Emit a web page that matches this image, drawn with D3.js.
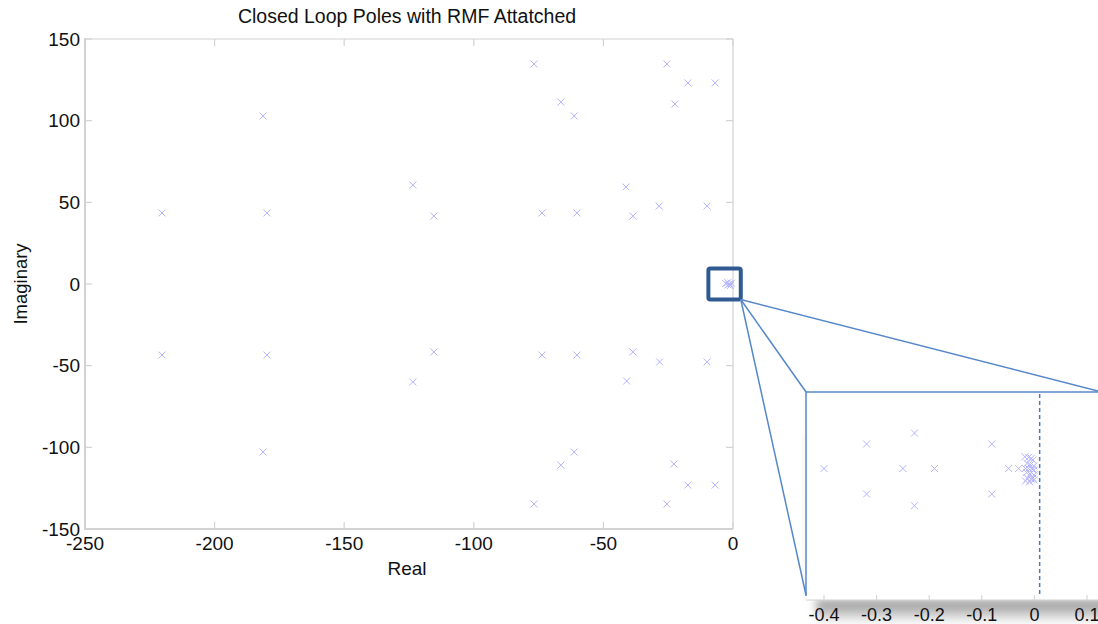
<!DOCTYPE html>
<html>
<head>
<meta charset="utf-8">
<script src="https://cdn.jsdelivr.net/npm/d3@7"></script>
<style>
  body { margin: 0; background: #fff; }
  text { font-family: "Liberation Sans", Arial, sans-serif; fill: #111; }
</style>
</head>
<body>
<div id="chart"></div>
<script>
// pole locations
const realParts = [-76.8, -25.5, -17.4, -6.9, -66.4, -22.4, -61.3, -181.3, -123.5, -41.3, -220.3, -179.8, -115.4, -73.7, -60.2, -38.6, -28.5, -10.0,
                   -76.8, -25.5, -17.4, -6.9, -66.4, -22.8, -61.3, -181.3, -123.5, -41.0, -220.3, -179.8, -115.4, -73.7, -60.2, -38.6, -28.3, -10.0,
                   -2.8, -2.0, -1.4, -1.0, -1.8, -0.6];
const imagParts = [134.7, 134.7, 123.1, 123.1, 111.4, 110.2, 102.9, 102.9, 60.6, 59.4, 43.5, 43.5, 41.6, 43.5, 43.5, 41.6, 47.7, 47.7,
                   -134.7, -134.7, -123.1, -123.1, -110.9, -110.2, -102.9, -102.9, -60.0, -59.4, -43.5, -43.5, -41.6, -43.5, -43.5, -41.6, -47.7, -47.7,
                   0.3, 0.9, 0, -0.9, -0.6, 0.5];

// poles in the zoomed inset
const zoomReal = [-0.400, -0.319, -0.319, -0.228, -0.228, -0.250, -0.190, -0.081, -0.081, -0.049, -0.030,
                  -0.018, -0.011, -0.006, -0.003, -0.014, -0.008, -0.001, -0.017, -0.011, -0.004, -0.001,
                  -0.015, -0.008, -0.001, -0.013, -0.006, -0.001, -0.017, -0.009, -0.003];
const zoomImag = [0, 0.096, -0.100, 0.139, -0.146, 0, 0, 0.096, -0.100, 0, 0,
                  0.046, 0.044, 0.040, 0.033, 0.020, 0.014, 0.010, 0, 0, -0.003, -0.006,
                  -0.016, -0.022, -0.025, -0.038, -0.042, -0.045, -0.049, -0.052, -0.038];

const xTicks = [-250, -200, -150, -100, -50, 0];
const yTicks = [-150, -100, -50, 0, 50, 100, 150];
const zoomTicks = [-0.4, -0.3, -0.2, -0.1, 0, 0.1];
const dashedAt = 0.01;

const svgWidth = 1098, svgHeight = 624;
const margin = {top: 39, left: 85, width: 648, height: 490};

const svg = d3.select('#chart')
    .append('svg')
    .attr('width', svgWidth)
    .attr('height', svgHeight);

const x = d3.scaleLinear().domain([-250, 0]).range([margin.left, margin.left + margin.width]);
const y = d3.scaleLinear().domain([-150, 150]).range([margin.top + margin.height, margin.top]);

// box lines
const axisGrey = '#d2d2d2';
svg.append('line').attr('x1', x(-250)).attr('x2', x(0)).attr('y1', y(150)).attr('y2', y(150))
    .attr('stroke', axisGrey).attr('stroke-width', 1.2);
svg.append('line').attr('x1', x(0)).attr('x2', x(0)).attr('y1', y(150)).attr('y2', y(-150))
    .attr('stroke', axisGrey).attr('stroke-width', 1.2);
svg.append('line').attr('x1', x(-250)).attr('x2', x(-250)).attr('y1', y(150) - 1).attr('y2', y(-150) + 1)
    .attr('stroke', axisGrey).attr('stroke-width', 2);
svg.append('line').attr('x1', x(-250) - 1).attr('x2', x(0)).attr('y1', y(-150)).attr('y2', y(-150))
    .attr('stroke', axisGrey).attr('stroke-width', 2);

// inner ticks
const tickLen = 7;
xTicks.forEach(t => {
    svg.append('line').attr('x1', x(t)).attr('x2', x(t)).attr('y1', y(-150)).attr('y2', y(-150) - tickLen)
        .attr('stroke', axisGrey).attr('stroke-width', 1.2);
    svg.append('line').attr('x1', x(t)).attr('x2', x(t)).attr('y1', y(150)).attr('y2', y(150) + tickLen)
        .attr('stroke', axisGrey).attr('stroke-width', 1.2);
    svg.append('text').attr('x', x(t)).attr('y', y(-150) + 21)
        .attr('text-anchor', 'middle').attr('font-size', 19).text(t);
});
yTicks.forEach(t => {
    svg.append('line').attr('x1', x(-250)).attr('x2', x(-250) + tickLen).attr('y1', y(t)).attr('y2', y(t))
        .attr('stroke', axisGrey).attr('stroke-width', 1.2);
    svg.append('line').attr('x1', x(0)).attr('x2', x(0) - tickLen).attr('y1', y(t)).attr('y2', y(t))
        .attr('stroke', axisGrey).attr('stroke-width', 1.2);
    svg.append('text').attr('x', x(-250) - 5).attr('y', y(t) + 6.5)
        .attr('text-anchor', 'end').attr('font-size', 19).text(t);
});

// titles
svg.append('text').attr('x', 407).attr('y', 23).attr('text-anchor', 'middle')
    .attr('font-size', 19.5).text('Closed Loop Poles with RMF Attatched');
svg.append('text').attr('x', 407).attr('y', 575).attr('text-anchor', 'middle')
    .attr('font-size', 19).text('Real');
svg.append('text').attr('transform', `translate(27,${y(0)}) rotate(-90)`).attr('text-anchor', 'middle')
    .attr('font-size', 18.5).text('Imaginary');

// x markers
const markColor = '#b4b4ff';
function cross(g, cx, cy, r) {
    g.append('path')
        .attr('d', `M${cx - r},${cy - r}L${cx + r},${cy + r}M${cx - r},${cy + r}L${cx + r},${cy - r}`)
        .attr('stroke', markColor).attr('stroke-width', 1).attr('fill', 'none');
}
const poles = svg.append('g');
realParts.forEach((re, i) => cross(poles, x(re), y(imagParts[i]), 3.5));

// zoom box on the origin
const boxX0 = x(-9.5), boxX1 = x(3), boxY0 = y(9.5), boxY1 = y(-9.5);
svg.append('rect').attr('x', boxX0).attr('y', boxY0)
    .attr('width', boxX1 - boxX0).attr('height', boxY1 - boxY0)
    .attr('rx', 2).attr('fill', 'none').attr('stroke', '#2e5a91').attr('stroke-width', 4);

// inset
const inset = {left: 806, top: 392, right: 1100, bottom: 600};
const zx = d3.scaleLinear().domain([-0.4, 0.1]).range([824, 1087]);
const zy = d3.scaleLinear().domain([-0.5, 0.3]).range([596, 392]);

const defs = svg.append('defs');
const grad = defs.append('linearGradient').attr('id', 'shadow').attr('x1', 0).attr('x2', 0).attr('y1', 0).attr('y2', 1);
grad.append('stop').attr('offset', '0%').attr('stop-color', '#8a8a8a');
grad.append('stop').attr('offset', '100%').attr('stop-color', '#ffffff');
const blur = defs.append('filter').attr('id', 'blur').attr('x', '-20%').attr('y', '-20%').attr('width', '140%').attr('height', '160%');
blur.append('feGaussianBlur').attr('stdDeviation', 4);

svg.append('rect').attr('x', inset.left + 10).attr('y', inset.bottom).attr('width', inset.right - inset.left)
    .attr('height', 24).attr('fill', 'url(#shadow)').attr('filter', 'url(#blur)');
svg.append('rect').attr('x', inset.left - 3).attr('y', inset.top + 40).attr('width', 4)
    .attr('height', inset.bottom - inset.top - 40).attr('fill', '#ececec').attr('filter', 'url(#blur)');
svg.append('rect').attr('x', inset.left).attr('y', inset.top)
    .attr('width', inset.right - inset.left).attr('height', inset.bottom - inset.top).attr('fill', '#fff');

// inset axis
svg.append('line').attr('x1', inset.left).attr('x2', inset.right).attr('y1', inset.bottom).attr('y2', inset.bottom)
    .attr('stroke', '#cfcfcf').attr('stroke-width', 1.2);
zoomTicks.forEach(t => {
    svg.append('line').attr('x1', zx(t)).attr('x2', zx(t)).attr('y1', inset.bottom).attr('y2', inset.bottom - 5)
        .attr('stroke', '#cfcfcf').attr('stroke-width', 1);
    svg.append('text').attr('x', zx(t)).attr('y', 621).attr('text-anchor', 'middle')
        .attr('font-size', 18).text(t === 0 ? '0' : d3.format('.1f')(t).replace('\u2212', '-'));
});

svg.append('line').attr('x1', zx(dashedAt)).attr('x2', zx(dashedAt)).attr('y1', inset.top + 2).attr('y2', inset.bottom - 4)
    .attr('stroke', '#4a78bd').attr('stroke-width', 1.5).attr('stroke-dasharray', '4,3');

const zoomPoles = svg.append('g');
zoomReal.forEach((re, i) => cross(zoomPoles, zx(re), zy(zoomImag[i]), 3.5));

// inset frame and connectors
const linkColor = '#5687c9';
svg.append('line').attr('x1', inset.left).attr('x2', inset.right).attr('y1', inset.top).attr('y2', inset.top)
    .attr('stroke', linkColor).attr('stroke-width', 1.5);
svg.append('line').attr('x1', inset.left).attr('x2', inset.left).attr('y1', inset.top).attr('y2', inset.bottom - 4)
    .attr('stroke', linkColor).attr('stroke-width', 1.5);
[[inset.left, inset.top], [inset.left, inset.bottom - 5], [1098, inset.top - 1]].forEach(([tx, ty]) => {
    svg.append('line').attr('x1', boxX1).attr('y1', boxY1).attr('x2', tx).attr('y2', ty)
        .attr('stroke', linkColor).attr('stroke-width', 1.5);
});
</script>
</body>
</html>
